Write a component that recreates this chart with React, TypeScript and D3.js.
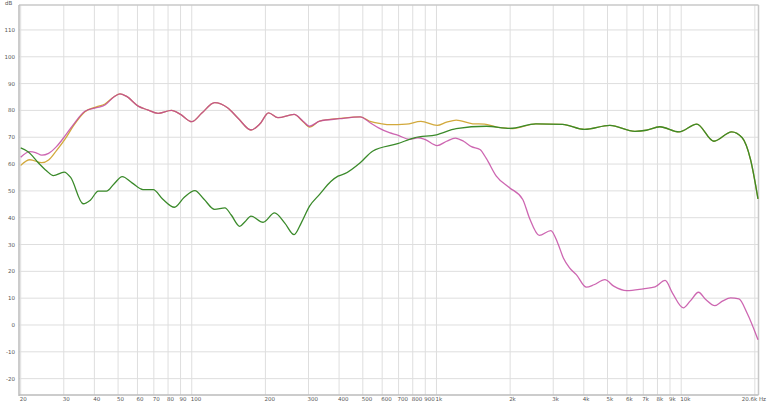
import React from "react";
import * as d3 from "d3";

const W = 768;
const H = 403;

const xTicks = [20, 30, 40, 50, 60, 70, 80, 90, 100, 200, 300, 400, 500, 600, 700, 800, 900, 1000, 2000, 3000, 4000, 5000, 6000, 7000, 8000, 9000, 10000];
const xTickLabels = ["20", "30", "40", "50", "60", "70", "80", "90", "100", "200", "300", "400", "500", "600", "700", "800", "900", "1k", "2k", "3k", "4k", "5k", "6k", "7k", "8k", "9k", "10k"];
const xExtraGrid = [20000];
const yTicks = [-20, -10, 0, 10, 20, 30, 40, 50, 60, 70, 80, 90, 100, 110];

// Yellow series
const yellowF = [20, 21.8, 24.4, 26, 28, 30.3, 33, 36.6, 40.8, 44.2, 48, 50.9, 54, 60.4, 66, 72.8, 82.6, 90, 100, 110, 124, 140, 155, 174.6, 190, 206, 225, 262, 285, 303, 333, 402, 488, 540, 600, 642, 752, 864, 1006, 1100, 1204, 1408, 1572, 1756, 1988, 2052, 2548, 3274, 4030, 5110, 6472, 7200, 8180, 9800, 11580, 13600, 16080, 17760, 19200, 20600];
const yellowV = [59.5, 61.6, 60.5, 61.5, 65, 69.2, 74.5, 79.5, 81.3, 82.4, 85, 86.2, 85.3, 81.6, 80.2, 78.9, 80, 78.5, 75.8, 79, 82.9, 81, 77, 72.7, 75, 79.1, 77.3, 78.5, 75.8, 73.8, 76, 77, 77.6, 75.8, 75, 74.7, 74.9, 75.9, 74.4, 75.6, 76.4, 75, 74.9, 73.8, 73.3, 73.2, 75, 74.8, 72.9, 74.4, 72.2, 72.6, 73.9, 72, 74.9, 68.5, 72, 69.8, 61.7, 47];

// Magenta series
const magentaF = [20, 21.8, 23, 24.4, 26, 28, 30.3, 33, 36.6, 40.8, 44.2, 48, 50.9, 54, 60.4, 66, 72.8, 82.6, 90, 100, 110, 124, 140, 155, 174.6, 190, 206, 225, 262, 285, 303, 333, 402, 488, 532, 580, 642, 694, 776, 840, 896, 1006, 1100, 1194, 1290, 1390, 1506, 1600, 1756, 1988, 2252, 2400, 2630, 2932, 3128, 3300, 3498, 3728, 4098, 4400, 4878, 5300, 5990, 7000, 7820, 8600, 9200, 10200, 10900, 11770, 12600, 13720, 14800, 15920, 17200, 18580, 20600];
const magentaV = [62.5, 64.6, 64.3, 63.3, 64, 66.5, 70.4, 75, 79.7, 81, 82, 85, 86.2, 85.3, 81.6, 80.2, 78.9, 80, 78.5, 75.8, 79, 82.9, 81, 77, 72.7, 75, 79.1, 77.3, 78.5, 76, 74.1, 76, 76.9, 77.6, 75.6, 73.5, 71.7, 70.8, 69.2, 69.8, 69.2, 66.9, 68.5, 69.7, 68.5, 66.5, 65.4, 62, 55.5, 51.2, 46.8, 39.8, 33.4, 35.2, 30.6, 25, 21.3, 18.8, 14.1, 15, 16.9, 14.5, 12.8, 13.5, 14.2, 16.6, 12, 6.4, 9, 12.2, 9.5, 7.2, 9, 10.1, 9.7, 4.5, -5.5];

// Green series
const greenF = [20, 21.5, 23.6, 25.5, 27.2, 30.1, 32, 36, 38.5, 41.5, 44.8, 48, 52, 57, 63.2, 69.6, 76, 85, 93, 103, 112, 124, 136.6, 145, 157, 165, 174.6, 195.6, 218, 240, 262, 280, 303, 333, 370, 396, 422, 488, 548, 694, 812, 1000, 1204, 1600, 2000, 2548, 3274, 4030, 5110, 6472, 7200, 8180, 9800, 11580, 13600, 16080, 17760, 19200, 20600];
const greenV = [66, 64.5, 60.5, 57.5, 55.7, 57, 55, 45.2, 46.5, 49.9, 49.9, 52.5, 55.3, 53, 50.5, 50.5, 47, 43.9, 47.5, 50.1, 47, 43.1, 43.7, 41, 36.8, 38.5, 40.6, 38.3, 41.8, 38, 33.7, 38, 44.3, 48.7, 53.5, 55.5, 56.4, 60.5, 64.8, 67.6, 69.8, 70.9, 73.2, 74.1, 73.3, 75, 74.8, 72.9, 74.4, 72.2, 72.6, 73.9, 72, 74.9, 68.5, 72, 69.8, 61.7, 47];

const LEFT = 19;
const RIGHT = 758.5;
const TOP = 5;
const BOTTOM = 395;

export default function App() {
  const x = d3.scaleLog().domain([20, 20600]).range([20.7, 758]);
  const y = d3.scaleLinear().domain([-26.1, 119.3]).range([BOTTOM, TOP]);

  const line = d3
    .line<[number, number]>()
    .x((d) => x(d[0]))
    .y((d) => y(d[1]))
    .curve(d3.curveMonotoneX);

  const mk = (f: number[], v: number[]) => line(f.map((ff, i) => [ff, v[i]] as [number, number])) || "";

  const font = "'DejaVu Sans', Verdana, sans-serif";

  return (
    <svg
      width={W}
      height={H}
      style={{ position: "absolute", left: 0, top: 0, background: "#fff" }}
    >
      <rect x={0} y={0} width={W} height={H} fill="#fff" />
      {yTicks.map((t) => (
        <line key={"hy" + t} x1={LEFT} x2={RIGHT} y1={y(t)} y2={y(t)} stroke="#dedede" strokeWidth={1} />
      ))}
      {xTicks.concat(xExtraGrid).map((t) => (
        <line key={"gx" + t} x1={x(t)} x2={x(t)} y1={TOP} y2={BOTTOM} stroke="#dedede" strokeWidth={1} />
      ))}
      {/* frame */}
      <line x1={LEFT} x2={RIGHT} y1={TOP} y2={TOP} stroke="#c8c8c8" strokeWidth={1.5} />
      <line x1={RIGHT} x2={RIGHT} y1={TOP} y2={BOTTOM} stroke="#c8c8c8" strokeWidth={1.5} />
      <line x1={LEFT} x2={LEFT} y1={TOP} y2={BOTTOM + 1} stroke="#bbbbbb" strokeWidth={1.5} />
      <line x1={LEFT} x2={RIGHT} y1={BOTTOM} y2={BOTTOM} stroke="#bbbbbb" strokeWidth={1.5} />

      {/* curves */}
      <path d={mk(yellowF, yellowV)} fill="none" stroke="#d2a93c" strokeWidth={1.3} />
      <path d={mk(magentaF, magentaV)} fill="none" stroke="#c0409e" strokeWidth={1.3} strokeOpacity={0.8} />
      <path d={mk(greenF, greenV)} fill="none" stroke="#3a8a2a" strokeWidth={1.3} />

      {/* labels */}
      <text x={5} y={5} fontSize={5.5} fill="#555" fontFamily={font}>dB</text>
      {yTicks.map((t) => (
        <text key={"ly" + t} x={15} y={y(t) + 2} fontSize={5.5} fill="#555" textAnchor="end" fontFamily={font}>
          {t}
        </text>
      ))}
      {xTicks.map((t, i) => (
        <text key={"lx" + t} x={x(t) - 1} y={401} fontSize={5.5} fill="#555" textAnchor="start" fontFamily={font}>
          {xTickLabels[i]}
        </text>
      ))}
      <text x={766} y={401} fontSize={5.5} fill="#555" textAnchor="end" fontFamily={font}>20.6k Hz</text>
    </svg>
  );
}
